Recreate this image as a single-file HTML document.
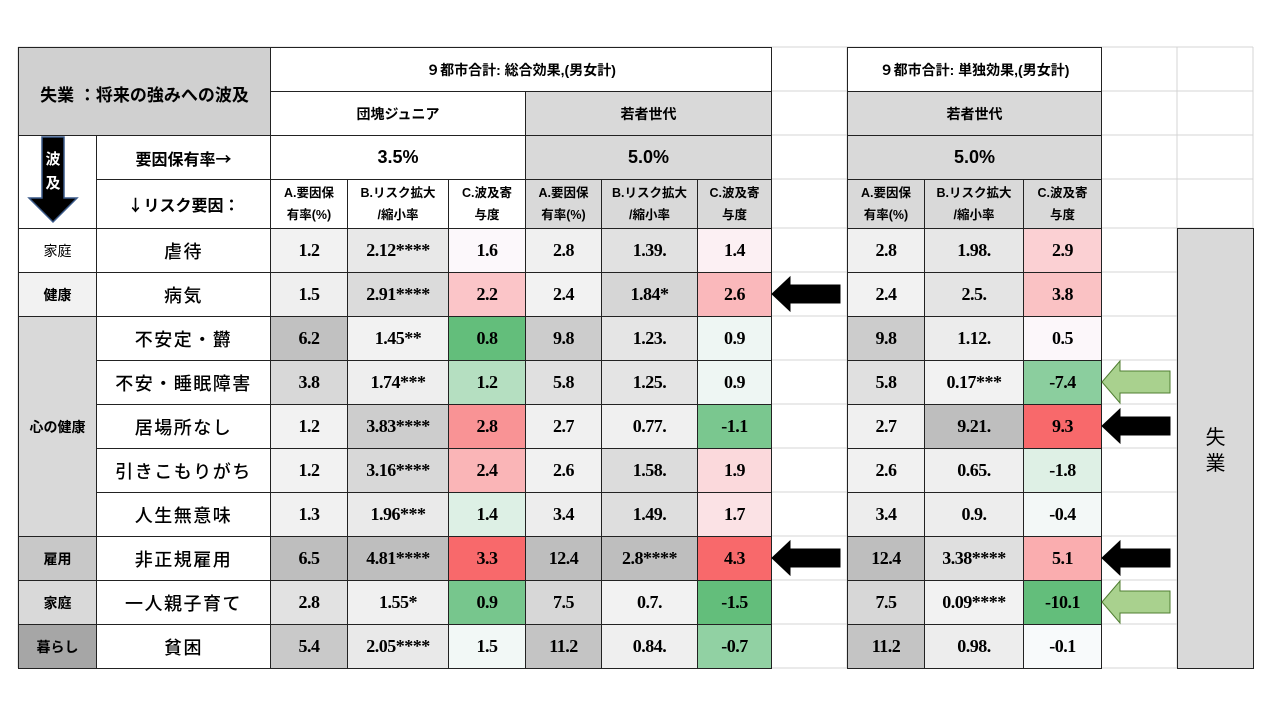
<!DOCTYPE html>
<html><head><meta charset="utf-8">
<style>
body{margin:0;width:1280px;height:720px;background:#fff;position:relative;overflow:hidden;font-family:"Liberation Sans","Noto Sans CJK JP",sans-serif;}
.c{position:absolute;box-sizing:border-box;display:flex;align-items:center;justify-content:center;text-align:center;color:#000;}
.g{position:absolute;background:#d4d4d4;}
.num{font-family:"Liberation Serif","Noto Serif CJK SC",serif;font-weight:bold;font-size:18px;letter-spacing:-0.5px;}
.hd{font-weight:bold;font-size:14px;}
.sub{font-weight:bold;font-size:12.5px;line-height:22px;}
.item{font-family:"Noto Sans CJK JP",sans-serif;font-size:18px;letter-spacing:1.5px;font-weight:500;}
.cat{font-family:"Noto Sans CJK JP",sans-serif;font-size:14px;font-weight:bold;}
.bd{border:1px solid #222;}
</style></head><body>
<svg id="grid" width="1280" height="720" style="position:absolute;left:0;top:0"></svg>
<div id="root"></div>
<svg id="arrows" width="1280" height="720" style="position:absolute;left:0;top:0"></svg>
<script>
const items=["虐待","病気","不安定・欝","不安・睡眠障害","居場所なし","引きこもりがち","人生無意味","非正規雇用","一人親子育て","貧困"];
const g1A=[1.2,1.5,6.2,3.8,1.2,1.2,1.3,6.5,2.8,5.4];
const g1B=["2.12****","2.91****","1.45**","1.74***","3.83****","3.16****","1.96***","4.81****","1.55*","2.05****"];
const g1C=[1.6,2.2,0.8,1.2,2.8,2.4,1.4,3.3,0.9,1.5];
const g2A=[2.8,2.4,9.8,5.8,2.7,2.6,3.4,12.4,7.5,11.2];
const g2B=["1.39.","1.84*","1.23.","1.25.","0.77.","1.58.","1.49.","2.8****","0.7.","0.84."];
const g2C=[1.4,2.6,0.9,0.9,-1.1,1.9,1.7,4.3,-1.5,-0.7];
const g3A=[2.8,2.4,9.8,5.8,2.7,2.6,3.4,12.4,7.5,11.2];
const g3B=["1.98.","2.5.","1.12.","0.17***","9.21.","0.65.","0.9.","3.38****","0.09****","0.98."];
const g3C=[2.9,3.8,0.5,-7.4,9.3,-1.8,-0.4,5.1,-10.1,-0.1];

const X=[18,96,270,347,448,525,601,697,771,847,924,1023,1101,1177,1253];
const Y=[47,91,135,179,228,272,316,360,404,448,492,536,580,624,668];
const root=document.getElementById('root');
function cell(x0,y0,x1,y1,txt,cls,bg,name){
  const d=document.createElement('div');
  d.className='c '+(cls||'');
  d.style.left=x0+'px';d.style.top=y0+'px';d.style.width=(x1-x0+1)+'px';d.style.height=(y1-y0+1)+'px';
  d.style.background=bg||'#fff';
  d.innerHTML=txt;
  
  
  root.appendChild(d);return d;
}
// grid lines
const gs=document.getElementById('grid');
X.forEach(x=>{const l=document.createElementNS('http://www.w3.org/2000/svg','line');l.setAttribute('x1',x);l.setAttribute('x2',x);l.setAttribute('y1',47);l.setAttribute('y2',668);l.setAttribute('stroke','#d4d4d4');


gs.appendChild(l);});
Y.forEach(y=>{const l=document.createElementNS('http://www.w3.org/2000/svg','line');l.setAttribute('x1',18);l.setAttribute('x2',1253);l.setAttribute('y1',y);l.setAttribute('y2',y);l.setAttribute('stroke','#d4d4d4');


gs.appendChild(l);});

function mix(a,b,t){return 'rgb('+a.map((v,i)=>Math.round(v+(b[i]-v)*t)).join(',')+')';}
function median(arr){const s=[...arr].sort((a,b)=>a-b);const n=s.length;return n%2?s[(n-1)/2]:(s[n/2-1]+s[n/2])/2;}
function heat(v,arr){const mn=Math.min(...arr),mx=Math.max(...arr),md=median(arr);
 const W=[252,252,255],R=[248,105,107],G=[99,190,123];
 if(v>=md)return mix(W,R,(v-md)/(mx-md||1));return mix(W,G,(md-v)/(md-mn||1));}
function grayScale(v,arr){const mn=Math.min(...arr),mx=Math.max(...arr);return mix([242,242,242],[190,190,190],(v-mn)/(mx-mn||1));}

// header
cell(18,47,270,135,'失業 ：将来の強みへの波及','bd','#d0d0d0','title-cell').style.cssText+='font-weight:bold;font-size:17px;align-items:flex-start;padding-top:33px;';
const ac=cell(18,135,96,228,'','bd','#fff','spread-arrow-cell');
ac.innerHTML='<svg width="78" height="93"><polygon points="23,1 45,1 45,62 58,62 34,86 10,62 23,62" fill="#000" stroke="#3b5a8a" stroke-width="1.5"/><text x="34" y="28" fill="#fff" font-size="15" font-weight="bold" text-anchor="middle" font-family="Noto Sans CJK JP">波</text><text x="34" y="52" fill="#fff" font-size="15" font-weight="bold" text-anchor="middle" font-family="Noto Sans CJK JP">及</text></svg>';
cell(96,135,270,179,'要因保有率→','bd cat','#fff','holding-rate-label').style.fontSize='16px';
cell(96,179,270,228,'↓リスク要因：','bd cat','#fff','risk-factor-label').style.fontSize='16px';

cell(270,47,771,91,'９都市合計: 総合効果,(男女計)','bd hd','#fff','total-effect-header');
cell(270,91,525,135,'団塊ジュニア','bd hd','#fff','dankai-junior-header');
cell(525,91,771,135,'若者世代','bd hd','#d9d9d9','youth-header-1');
cell(270,135,525,179,'3.5%','bd','#fff','dankai-rate').style.cssText+='font-weight:bold;font-size:18px;';
cell(525,135,771,179,'5.0%','bd','#d9d9d9','youth-rate-1').style.cssText+='font-weight:bold;font-size:18px;';
cell(847,47,1101,91,'９都市合計: 単独効果,(男女計)','bd hd','#fff','single-effect-header');
cell(847,91,1101,135,'若者世代','bd hd','#d9d9d9','youth-header-2');
cell(847,135,1101,179,'5.0%','bd','#d9d9d9','youth-rate-2').style.cssText+='font-weight:bold;font-size:18px;';
const subs=['A.要因保<br>有率(%)','B.リスク拡大<br>/縮小率','C.波及寄<br>与度'];
[[270,347,448,525,'#fff'],[525,601,697,771,'#d9d9d9'],[847,924,1023,1101,'#d9d9d9']].forEach((g,gi)=>{
 for(let k=0;k<3;k++)cell(g[k],179,g[k+1],228,subs[k],'bd sub',g[4],'subheader-'+(gi+1)+'-'+'abc'[k]);
});
// categories
const cats=[[0,0,'家庭','#fff',false],[1,1,'健康','#f2f2f2',true],[2,6,'心の健康','#d9d9d9',true],[7,7,'雇用','#c8c8c8',true],[8,8,'家庭','#d9d9d9',true],[9,9,'暮らし','#a6a6a6',true]];
cats.forEach((c,i)=>{const d=cell(18,Y[c[0]+4],96,Y[c[1]+5],c[2],'bd cat',c[3],'category-'+(i+1));if(!c[4])d.style.fontWeight='normal';});
items.forEach((t,i)=>cell(96,Y[i+4],270,Y[i+5],t,'bd item','#fff','item-'+(i+1)));
// data
const groups=[[g1A,g1B,g1C,270],[g2A,g2B,g2C,525],[g3A,g3B,g3C,847]];
groups.forEach((g,gi)=>{
 const xs=gi==0?[270,347,448,525]:gi==1?[525,601,697,771]:[847,924,1023,1101];
 const bNums=g[1].map(s=>parseFloat(s));
 items.forEach((_,i)=>{
  cell(xs[0],Y[i+4],xs[1],Y[i+5],g[0][i].toFixed(1),'bd num',grayScale(g[0][i],g[0]),'g'+(gi+1)+'-a-'+(i+1));
  cell(xs[1],Y[i+4],xs[2],Y[i+5],g[1][i],'bd num',grayScale(bNums[i],bNums),'g'+(gi+1)+'-b-'+(i+1));
  cell(xs[2],Y[i+4],xs[3],Y[i+5],g[2][i].toFixed(1),'bd num',heat(g[2][i],g[2]),'g'+(gi+1)+'-c-'+(i+1));
 });
});
const sb=cell(1177,228,1253,668,'失<br>業','bd','#d9d9d9','unemployment-side-label');
sb.style.cssText+='font-family:"Noto Sans CJK JP",sans-serif;font-size:20px;line-height:26px;';

// arrows
const as=document.getElementById('arrows');
const arrowRows=[[771,1,'black'],[771,7,'black'],[1101,3,'green'],[1101,4,'black'],[1101,7,'black'],[1101,8,'green']];
arrowRows.forEach((a,i)=>{
 const x=a[0]+1,cy=(Y[a[1]+4]+Y[a[1]+5])/2;
 const p=document.createElementNS('http://www.w3.org/2000/svg','polygon');
 const h1=a[2]=='black'?9:11,h2=a[2]=='black'?17:21,w=a[2]=='black'?68:68;
 p.setAttribute('points',`${x},${cy} ${x+18},${cy-h2} ${x+18},${cy-h1} ${x+w},${cy-h1} ${x+w},${cy+h1} ${x+18},${cy+h1} ${x+18},${cy+h2}`);
 p.setAttribute('fill',a[2]=='black'?'#000':'#a9d18e');
 p.setAttribute('stroke',a[2]=='black'?'#000':'#507e32');
 
 
 as.appendChild(p);
});
</script>
</body></html>
